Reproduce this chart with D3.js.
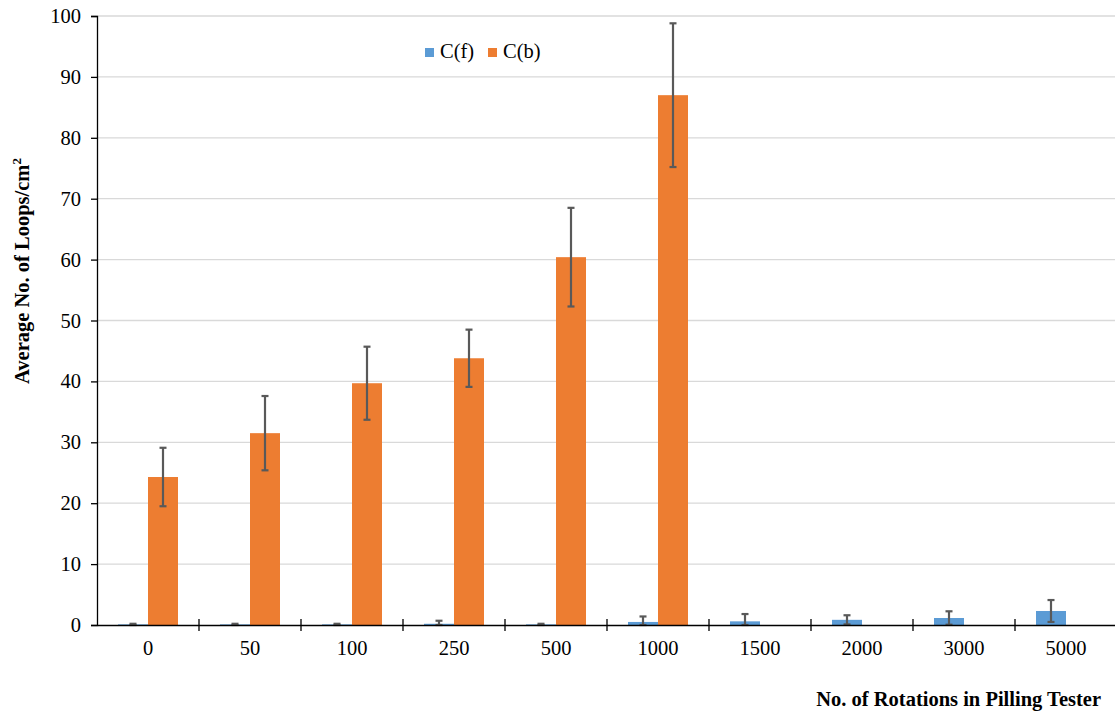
<!DOCTYPE html>
<html>
<head>
<meta charset="utf-8">
<script src="https://cdn.jsdelivr.net/npm/d3@7/dist/d3.min.js"></script>
<style>
  html, body { margin: 0; padding: 0; background: #fff; }
  svg text { font-family: "Liberation Serif", "Times New Roman", serif; }
</style>
</head>
<body>
<script>
const categories = ["0", "50", "100", "250", "500", "1000", "1500", "2000", "3000", "5000"];
const seriesNames = ["C(f)", "C(b)"];
const cfValues = [0.1, 0.1, 0.1, 0.2, 0.1, 0.5, 0.6, 0.85, 1.15, 2.3];
const cfErrors = [0.1, 0.1, 0.1, 0.5, 0.1, 0.9, 1.2, 0.75, 1.1, 1.8];
const cbValues = [24.3, 31.5, 39.7, 43.8, 60.4, 87.0, 0, 0, 0, 0];
const cbErrors = [4.8, 6.1, 6.0, 4.7, 8.1, 11.8, 0, 0, 0, 0];
const yTicks = [0, 10, 20, 30, 40, 50, 60, 70, 80, 90, 100];
const colors = ["#5B9BD5", "#ED7D31"];

const W = 1115, H = 711;
const mLeft = 97, mRight = 1117, mTop = 16, mBottom = 625;
const FS = 20.5;
const FONT = "'Liberation Serif', 'Times New Roman', serif";

const svg = d3.select("body").append("svg").attr("width", W).attr("height", H);

const x = d3.scaleBand().domain(categories).range([mLeft, mRight]).paddingInner(0).paddingOuter(0);
const xs = d3.scaleBand().domain(seriesNames).range([0, x.bandwidth()]).paddingInner(0).paddingOuter(0.7);
const y = d3.scaleLinear().domain([0, 100]).range([mBottom, mTop]);

// gridlines
svg.append("g").selectAll("line").data(yTicks.filter(d => d > 0)).join("line")
  .attr("x1", mLeft).attr("x2", W).attr("y1", d => y(d)).attr("y2", d => y(d))
  .attr("stroke", "#d9d9d9").attr("stroke-width", 1.3);

const data = categories.map((c, i) => ({
  cat: c,
  vals: [
    { s: seriesNames[0], v: cfValues[i], e: cfErrors[i], col: colors[0] },
    { s: seriesNames[1], v: cbValues[i], e: cbErrors[i], col: colors[1] }
  ]
}));

const groups = svg.append("g").selectAll("g").data(data).join("g")
  .attr("transform", d => `translate(${x(d.cat)},0)`);

groups.selectAll("rect").data(d => d.vals.filter(v => v.v > 0)).join("rect")
  .attr("x", d => xs(d.s)).attr("width", xs.bandwidth())
  .attr("y", d => y(d.v)).attr("height", d => y(0) - y(d.v))
  .attr("fill", d => d.col);

// error bars
const eb = groups.selectAll("g.eb").data(d => d.vals.filter(v => v.v > 0)).join("g").attr("class", "eb");
const ebColor = "#595959";
const cx = d => xs(d.s) + xs.bandwidth() / 2;
eb.append("line")
  .attr("x1", cx).attr("x2", cx)
  .attr("y1", d => y(d.v + d.e)).attr("y2", d => y(Math.max(0, d.v - d.e)))
  .attr("stroke", ebColor).attr("stroke-width", 2.2);
eb.append("line")
  .attr("x1", d => cx(d) - 3.5).attr("x2", d => cx(d) + 3.5)
  .attr("y1", d => y(d.v + d.e)).attr("y2", d => y(d.v + d.e))
  .attr("stroke", ebColor).attr("stroke-width", 2.2);
eb.append("line")
  .attr("x1", d => cx(d) - 3.5).attr("x2", d => cx(d) + 3.5)
  .attr("y1", d => y(Math.max(0, d.v - d.e))).attr("y2", d => y(Math.max(0, d.v - d.e)))
  .attr("stroke", ebColor).attr("stroke-width", 2.2);

// y axis
const yAxis = d3.axisLeft(y).tickValues(yTicks).tickSize(6).tickPadding(10);
const yg = svg.append("g").attr("transform", `translate(${mLeft},0)`).call(yAxis)
  .attr("font-family", FONT).attr("font-size", FS);
yg.select(".domain").attr("stroke", "#000").attr("stroke-width", 1.3);
yg.selectAll(".tick line").attr("stroke", "#000").attr("stroke-width", 1.3);
yg.selectAll(".tick text").attr("fill", "#000");

// x axis
const xAxis = d3.axisBottom(x).tickSize(0).tickPadding(15);
const xg = svg.append("g").attr("transform", `translate(0,${mBottom})`).call(xAxis)
  .attr("font-family", FONT).attr("font-size", FS);
xg.select(".domain").attr("stroke", "#000").attr("stroke-width", 1.3);
xg.selectAll(".tick text").attr("fill", "#000");
// category boundary ticks
svg.append("g").selectAll("line").data(categories.slice(1)).join("line")
  .attr("x1", d => x(d)).attr("x2", d => x(d))
  .attr("y1", mBottom - 6).attr("y2", mBottom + 6)
  .attr("stroke", "#000").attr("stroke-width", 1.3);

// axis titles
svg.append("text").attr("x", 1101).attr("y", 706).attr("text-anchor", "end")
  .attr("font-size", FS).attr("font-weight", "bold").text("No. of Rotations in Pilling Tester");

const yt = svg.append("text").attr("transform", `translate(29,${271}) rotate(-90)`)
  .attr("text-anchor", "middle").attr("font-size", FS).attr("font-weight", "bold");
yt.append("tspan").text("Average No. of Loops/cm");
yt.append("tspan").attr("font-size", 13).attr("dy", -8).text("2");

// legend
const legend = svg.append("g").attr("transform", "translate(425,48)");
const legX = [0, 63];
seriesNames.forEach((s, i) => {
  legend.append("rect").attr("x", legX[i]).attr("y", 0).attr("width", 9).attr("height", 9).attr("fill", colors[i]);
  legend.append("text").attr("x", legX[i] + 15).attr("y", 10).attr("font-size", FS).text(s);
});
</script>
</body>
</html>
